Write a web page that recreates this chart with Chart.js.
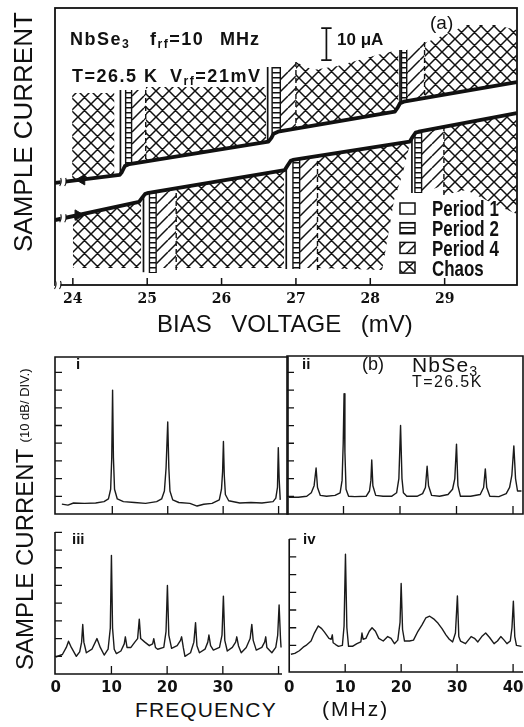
<!DOCTYPE html>
<html><head><meta charset="utf-8">
<script src="https://cdn.jsdelivr.net/npm/chart.js@4.4.1/dist/chart.umd.min.js"></script>
<style>
html,body{margin:0;padding:0;background:#fff;overflow:hidden;width:524px;height:727px;}
#wrap{position:relative;width:524px;height:727px;overflow:hidden;background:#fff;}
canvas{position:absolute;}
.t{position:absolute;white-space:nowrap;line-height:1;color:#111;font-family:"Liberation Sans",Arial,sans-serif;transform-origin:0 0;}
.t sub{font-size:0.68em;vertical-align:-0.28em;line-height:0;}
</style></head><body><div id="wrap">
<canvas id="ca"></canvas>
<canvas id="c1"></canvas>
<canvas id="c2"></canvas>
<canvas id="c3"></canvas>
<canvas id="c4"></canvas>
</div>
<script>
// ---------------- DATA: panel (a) ----------------
const voltageTicks = [24, 25, 26, 27, 28, 29];
// thick I-V branches [bias mV, current uA]
const upperCurve = [[23.76,31.9],[24.63,34.4],[24.66,35.3],[24.70,37.2],[24.76,37.8],[26.63,44.8],[26.67,46.0],[26.70,47.3],[26.76,47.9],[28.33,54.2],[28.37,55.5],[28.40,56.8],[28.45,57.3],[29.97,63.4]];
const lowerCurve = [[23.76,20.3],[24.89,26.0],[24.93,27.2],[24.97,28.4],[25.00,28.7],[26.85,35.9],[26.89,37.4],[26.93,38.8],[26.96,39.1],[28.53,44.8],[28.57,46.3],[28.61,47.6],[28.65,47.9],[29.97,53.7]];
const upperArrow = [[24.12,32.9]];
const lowerArrow = [[24.07,21.85]];
// hatched regions: [kind, outer boundary]; filled to the branch
const upperRegions = [
  ['chaos', [[23.99,60.0],[24.56,60.0]]],
  ['p2',    [[24.71,60.9],[24.79,60.9]]],
  ['p4',    [[24.79,60.9],[24.98,60.9]]],
  ['chaos', [[24.98,61.9],[26.60,61.9]]],
  ['p2',    [[26.68,68.1],[26.79,68.1]]],
  ['p4',    [[26.79,66.4],[27.00,69.7]]],
  ['chaos', [[27.00,69.7],[27.23,67.2],[27.56,68.4],[28.09,71.9],[28.38,73.4]]],
  ['p2',    [[28.42,73.4],[28.49,73.4]]],
  ['p4',    [[28.49,73.4],[28.73,75.9]]],
  ['chaos', [[28.73,75.6],[29.03,78.4],[29.29,81.25],[29.69,81.25],[29.97,79.7]]]
];
const lowerRegions = [
  ['chaos', [[24.00,5.3],[24.92,5.3]]],
  ['p2',    [[25.03,3.75],[25.12,3.75]]],
  ['p4',    [[25.12,5.3],[25.39,5.3]]],
  ['chaos', [[25.39,5.3],[26.84,5.3]]],
  ['p2',    [[26.96,5.0],[27.05,5.0]]],
  ['p4',    [[27.05,5.3],[27.29,5.3]]],
  ['chaos', [[27.29,5.3],[28.16,4.7],[28.32,26.6],[28.43,34.4],[28.53,43.75]]],
  ['p2',    [[28.60,28.75],[28.69,28.75]]],
  ['p4',    [[28.69,28.75],[28.99,31.2]]],
  ['chaos', [[28.99,28.1],[29.29,29.7],[29.69,25.0],[29.97,22.2]]]
];
// boundary lines [bias, from current, to current]
const solidLines  = [[24.64,60.9,34.4],[26.62,68.1,44.6],[28.40,73.4,56.6],[24.95,4.0,28.1],[26.87,5.0,36.9],[28.56,28.75,46.2]];
const ladderRails = [[24.71,60.9,37.1],[24.79,60.9,37.7],[26.68,68.1,46.2],[26.79,68.1,47.8],[28.42,73.4,56.8],[28.49,73.4,57.3],[25.03,3.75,29.0],[25.12,3.75,29.4],[26.96,5.0,39.3],[27.05,5.0,39.6],[28.60,28.75,47.5],[28.69,28.75,48.3]];
const dashedLines = [[24.98,60.9,38.5],[27.00,69.7,48.8],[28.73,75.9,58.3],[25.39,4.7,30.4],[27.29,4.7,40.5],[28.99,28.1,49.6]];
const scaleBar = [[27.34,80.3],[27.48,80.3],[27.41,80.3],[27.41,70.3],[27.34,70.3],[27.48,70.3]];
const breakMarks = [[23.87,32.2],[23.87,20.85]];
const legendKinds = ['p1','p2','p4','chaos'];
const legendLabels = ['Period 1','Period 2','Period 4','Chaos'];

// ---------------- DATA: panel (b) ----------------
const freqTicks = [10, 20, 30, 40];
const freqLabelsIII = [0, 10, 20, 30];
const freqLabelsIV = [0, 10, 20, 30, 40];
const divTicksTop = [1,2,3,4,5,6,7,8];
const divTicksIII = [1,2,3,4,5,6,7,8];
const divTicksIV = [1.5,2.5,3.5,4.5,5.5,6.5,7.5];
// [frequency MHz, level in 10 dB divisions]
const spectrumI = [[0.9,0.56],[2,0.5],[3,0.62],[5,0.6],[7,0.62],[8.5,0.7],[9.3,0.85],[9.7,1.4],[9.9,3.2],[10.05,7.0],[10.2,3.2],[10.4,1.4],[10.9,0.85],[12,0.7],[14,0.65],[16,0.6],[18,0.7],[18.9,0.85],[19.4,1.3],[19.7,2.6],[20.0,5.2],[20.2,2.6],[20.4,1.3],[20.9,0.8],[22,0.65],[24,0.6],[25.3,0.45],[26.5,0.55],[28,0.6],[29.3,0.8],[29.7,1.4],[29.9,2.4],[30.05,4.1],[30.2,2.2],[30.4,1.1],[31,0.75],[33,0.62],[35,0.65],[37,0.62],[39,0.7],[39.5,0.9],[39.8,1.5],[39.95,3.75],[40.1,2.0],[40.3,0.8]];
const spectrumII = [[0.3,0.95],[2,0.95],[3.5,1.0],[4.3,1.2],[4.8,1.6],[5.15,2.6],[5.4,1.5],[5.9,1.05],[7,1.0],[8.5,1.05],[9.4,1.2],[9.75,1.9],[9.95,4.0],[10.1,6.8],[10.25,3.5],[10.45,1.4],[10.9,1.0],[12,0.98],[14,1.0],[14.6,1.3],[14.85,1.9],[15.0,3.05],[15.2,1.6],[15.7,1.05],[17,1.0],[18.5,1.0],[19.4,1.2],[19.8,2.0],[20.1,5.0],[20.35,2.0],[20.6,1.2],[21.2,1.0],[23,1.0],[24.0,1.15],[24.5,1.5],[24.8,2.7],[25.05,1.6],[25.6,1.05],[27,1.0],[28.5,1.1],[29.3,1.4],[29.7,2.0],[30.0,3.95],[30.25,1.6],[30.7,1.0],[32.5,1.0],[34.2,1.1],[34.8,1.5],[35.1,2.55],[35.35,1.5],[35.9,1.0],[37.5,0.98],[38.8,1.15],[39.4,1.5],[39.8,2.2],[40.15,3.85],[40.45,2.0],[40.8,1.3],[41.5,1.3]];
const spectrumIII = [[0.0,0.96],[1.2,1.1],[1.9,1.5],[2.3,1.85],[2.8,1.5],[3.7,1.0],[4.3,1.25],[4.65,1.8],[4.85,2.8],[5.05,1.8],[5.5,1.2],[6.5,1.4],[7.4,2.0],[8.0,1.5],[8.7,1.07],[9.4,1.4],[9.8,2.6],[10.0,6.7],[10.2,2.6],[10.5,1.4],[10.9,1.15],[11.7,1.3],[12.3,1.7],[12.5,2.1],[12.8,1.5],[13.5,1.5],[14.2,1.8],[14.7,2.0],[15.0,3.1],[15.25,2.0],[16.0,1.8],[16.8,1.6],[17.4,1.7],[17.6,2.0],[17.9,1.5],[18.3,1.4],[19.4,1.5],[19.8,2.4],[20.05,5.0],[20.3,2.2],[20.8,1.45],[21.8,1.6],[22.4,1.9],[22.6,2.1],[22.9,1.5],[23.2,1.0],[24.2,1.2],[24.8,1.8],[25.1,2.9],[25.35,1.6],[25.8,1.2],[26.8,1.4],[27.3,1.8],[27.5,2.2],[27.8,1.6],[28.3,1.35],[29.4,1.5],[29.85,2.2],[30.1,4.4],[30.35,1.9],[30.8,1.3],[31.7,1.5],[32.3,1.8],[32.5,2.1],[32.8,1.6],[33.3,1.2],[34.2,1.5],[34.9,2.0],[35.2,2.8],[35.45,1.9],[36.0,1.35],[37.0,1.5],[37.5,1.8],[37.7,2.1],[37.9,1.5],[38.8,1.2],[39.5,1.5],[39.85,2.2],[40.1,3.9],[40.35,2.0],[40.45,1.5]];
const spectrumIV = [[0.3,1.0],[1.0,1.05],[1.8,1.2],[2.5,1.4],[3.0,1.5],[3.9,1.75],[4.5,2.2],[5.2,2.6],[5.8,2.45],[6.3,2.25],[7.1,1.9],[7.5,1.85],[7.7,2.1],[7.85,1.65],[8.3,1.55],[8.8,1.45],[9.5,1.5],[9.8,2.6],[10.05,6.65],[10.3,2.5],[10.6,1.45],[11.3,1.45],[12.1,1.6],[12.8,1.7],[13.0,2.2],[13.2,1.85],[13.7,1.9],[14.3,2.3],[14.8,2.5],[15.4,2.3],[16.0,1.9],[16.8,1.75],[17.6,2.0],[18.2,1.9],[18.8,1.6],[19.4,1.8],[19.8,2.8],[20.0,5.0],[20.25,2.4],[20.6,1.75],[21.5,1.75],[22.2,1.8],[23.0,2.3],[23.7,2.65],[24.4,3.05],[25.1,3.15],[25.8,3.0],[26.6,2.75],[27.3,2.45],[28.0,2.1],[28.6,1.85],[29.2,1.7],[29.7,2.2],[30.05,4.3],[30.3,2.0],[30.6,1.75],[31.5,1.6],[32.0,1.8],[32.5,2.0],[33.1,1.9],[33.7,1.7],[34.4,2.0],[35.1,2.2],[35.8,1.95],[36.6,1.6],[37.2,1.75],[37.8,2.0],[38.4,1.8],[38.9,1.6],[39.5,1.75],[39.8,2.5],[40.05,4.0],[40.3,2.0],[40.6,1.5],[41.5,1.45]];

// ---------------- helpers ----------------
const INK = '#111';
const toXY = arr => arr.map(([x, y]) => ({x, y}));
function makePatterns() {
  function tile(w, h, draw) {
    const c = document.createElement('canvas'); c.width = w; c.height = h;
    const g = c.getContext('2d'); g.strokeStyle = INK; g.fillStyle = INK; g.lineWidth = 1.5;
    draw(g, w, h); return g.createPattern(c, 'repeat');
  }
  return {
    chaos: tile(13, 13, (g, w, h) => { g.beginPath(); for (const d of [-w, 0, w]) { g.moveTo(d, 0); g.lineTo(d + w, h); g.moveTo(d, h); g.lineTo(d + w, 0); } g.stroke(); }),
    p4: tile(12, 12, (g, w, h) => { g.beginPath(); for (const d of [-w, 0, w]) { g.moveTo(d, h); g.lineTo(d + w, 0); } g.stroke(); }),
    p2: tile(4, 5, (g, w, h) => { g.fillRect(0, 2, w, 1.5); }),
    p1: 'rgba(0,0,0,0)'
  };
}
const PAT = makePatterns();
function setCanvas(id, left, top, w, h) {
  const c = document.getElementById(id); c.width = w; c.height = h;
  c.style.left = left + 'px'; c.style.top = top + 'px'; c.style.width = w + 'px'; c.style.height = h + 'px';
  return c;
}

// ---------------- panel (a) ----------------
const dsA = [];
const curveDs = pts => ({data: toXY(pts), borderColor: INK, borderWidth: 3.8, pointRadius: 0, fill: false, borderJoinStyle: 'round', borderCapStyle: 'butt'});
dsA.push(curveDs(upperCurve));
dsA.push(curveDs(lowerCurve));
const arrowDs = (pts, rot) => ({data: toXY(pts), showLine: false, pointStyle: 'triangle', rotation: rot, pointRadius: 6, pointBackgroundColor: INK, pointBorderColor: INK, pointBorderWidth: 1, fill: false});
dsA.push(arrowDs(upperArrow, -90));
dsA.push(arrowDs(lowerArrow, 90));
const vline = ([v, a, b], w, dash) => ({data: [{x: v, y: a}, {x: v, y: b}], borderColor: INK, borderWidth: w, borderDash: dash, pointRadius: 0, fill: false});
solidLines.forEach(l => dsA.push(vline(l, 1.7, [])));
ladderRails.forEach(l => dsA.push(vline(l, 1.4, [])));
dashedLines.forEach(l => dsA.push(vline(l, 1.4, [5, 3])));
dsA.push({data: toXY(scaleBar), borderColor: INK, borderWidth: 1.7, pointRadius: 0, fill: false});
const regionDs = (kind, pts, target) => ({data: toXY(pts), borderWidth: 0, borderColor: 'rgba(0,0,0,0)', pointRadius: 0, fill: {target}, backgroundColor: PAT[kind]});
upperRegions.forEach(([k, p]) => dsA.push(regionDs(k, p, 0)));
lowerRegions.forEach(([k, p]) => dsA.push(regionDs(k, p, 1)));

const frameA = {
  id: 'frameA',
  afterDatasetsDraw(chart) {
    const {ctx, chartArea: a, scales: {x, y}} = chart;
    ctx.save();
    ctx.strokeStyle = INK; ctx.fillStyle = INK;
    ctx.lineWidth = 1.8;
    ctx.strokeRect(a.left, a.top, a.right - a.left, a.bottom - a.top);
    ctx.lineWidth = 1.5; ctx.beginPath();
    voltageTicks.forEach(v => { const px = x.getPixelForValue(v); ctx.moveTo(px, a.bottom); ctx.lineTo(px, a.bottom - 7); });
    ctx.stroke();
    // axis break marks
    const marks = breakMarks.map(([v, i]) => [x.getPixelForValue(v), y.getPixelForValue(i)]);
    marks.push([a.left + 3, a.bottom]);
    marks.forEach(([px, py]) => {
      ctx.fillStyle = '#fff'; ctx.fillRect(px - 2.5, py - 4, 5, 8);
      ctx.lineWidth = 1.1; ctx.beginPath();
      ctx.moveTo(px - 3.5, py + 4); ctx.quadraticCurveTo(px - 1, py, px - 2.5, py - 4);
      ctx.moveTo(px + 1.5, py + 4); ctx.quadraticCurveTo(px + 4, py, px + 2.5, py - 4);
      ctx.stroke();
    });
    // legend boxes
    legendKinds.forEach((k, i) => {
      const bx = 400, by = 203 + i * 19.7, bw = 15, bh = 11;
      ctx.fillStyle = '#fff'; ctx.fillRect(bx, by, bw, bh);
      if (k !== 'p1') { ctx.fillStyle = PAT[k]; ctx.fillRect(bx, by, bw, bh); }
      ctx.lineWidth = 1.5; ctx.strokeStyle = INK; ctx.strokeRect(bx, by, bw, bh);
    });
    ctx.restore();
  }
};

setCanvas('ca', 0, 0, 524, 345);
new Chart(document.getElementById('ca'), {
  type: 'line',
  data: {datasets: dsA},
  options: {
    responsive: false, animation: false, devicePixelRatio: 1,
    layout: {padding: {left: 55, top: 8, right: 3, bottom: 0}},
    plugins: {legend: {display: false}, tooltip: {enabled: false}},
    elements: {point: {radius: 0}, line: {tension: 0}},
    scales: {
      x: {type: 'linear', min: 23.76, max: 29.973,
          grid: {display: false, drawTicks: false}, border: {display: false},
          ticks: {font: {family: 'DejaVu Serif', weight: 'bold', size: 14}, color: INK, padding: 6, maxRotation: 0, autoSkip: false},
          afterBuildTicks: s => { s.ticks = voltageTicks.map(v => ({value: v})); },
          afterFit: s => { s.height = 60; }},
      y: {type: 'linear', min: 0, max: 86.5625, display: false}
    }
  },
  plugins: [frameA]
});

// ---------------- panel (b) ----------------
const specFrame = {
  id: 'specFrame',
  afterDatasetsDraw(chart, args, o) {
    const {ctx, chartArea: a, scales: {x, y}} = chart;
    ctx.save(); ctx.strokeStyle = INK; ctx.lineWidth = 1.6;
    ctx.beginPath();
    if (o.box) ctx.rect(a.left, a.top, a.right - a.left, a.bottom - a.top);
    else { ctx.moveTo(a.left, a.top); ctx.lineTo(a.left, a.bottom); ctx.lineTo(a.right, a.bottom); }
    ctx.stroke();
    ctx.lineWidth = 1.3; ctx.beginPath();
    o.yTicks.forEach(v => { const py = y.getPixelForValue(v); ctx.moveTo(a.left, py); ctx.lineTo(a.left + 7, py); });
    o.xTicks.forEach(v => { const px = x.getPixelForValue(v); ctx.moveTo(px, a.bottom); ctx.lineTo(px, a.bottom - 8); });
    ctx.stroke(); ctx.restore();
  }
};
function specChart(id, pos, data, xr, yr, fr, labels) {
  setCanvas(id, pos.l, pos.t, pos.w, pos.h);
  const xs = {type: 'linear', min: xr[0], max: xr[1], display: !!labels};
  if (labels) Object.assign(xs, {
    grid: {display: false, drawTicks: false}, border: {display: false},
    ticks: {font: {family: 'DejaVu Sans', weight: 'bold', size: 15}, color: INK, padding: pos.tp, maxRotation: 0, autoSkip: false},
    afterBuildTicks: s => { s.ticks = labels.map(v => ({value: v})); },
    afterFit: s => { s.height = 24; }
  });
  new Chart(document.getElementById(id), {
    type: 'line',
    data: {datasets: [{data: toXY(data), borderColor: '#1a1a1a', borderWidth: 1.4, pointRadius: 0, fill: false, tension: 0, borderJoinStyle: 'round'}]},
    options: {
      responsive: false, animation: false, devicePixelRatio: 1,
      layout: {padding: pos.pad},
      plugins: {legend: {display: false}, tooltip: {enabled: false}, specFrame: fr},
      scales: {x: xs, y: {type: 'linear', min: yr[0], max: yr[1], display: false}}
    },
    plugins: [specFrame]
  });
}
specChart('c1', {l: 53, t: 355, w: 237, h: 161, pad: {left: 2, top: 2, right: 2, bottom: 2}}, spectrumI, [-0.34, 41.7], [0, 8.87], {box: true, yTicks: divTicksTop, xTicks: freqTicks});
specChart('c2', {l: 285, t: 354, w: 240, h: 162, pad: {left: 2, top: 2, right: 2, bottom: 2}}, spectrumII, [0, 41.77], [0, 8.93], {box: true, yTicks: divTicksTop, xTicks: freqTicks});
specChart('c3', {l: 45, t: 530, w: 245, h: 168, tp: 5, pad: {left: 10, top: 2, right: 8, bottom: 0}}, spectrumIII, [-0.13, 40.62], [0, 8.02], {box: false, yTicks: divTicksIII, xTicks: freqTicks}, freqLabelsIII);
specChart('c4', {l: 277, t: 537, w: 257, h: 159, tp: 7, pad: {left: 10, top: 2, right: 11, bottom: 0}}, spectrumIV, [0, 41.77], [0, 7.51], {box: false, yTicks: divTicksIV, xTicks: freqTicks}, freqLabelsIV);

// ---------------- text ----------------
const wrap = document.getElementById('wrap');
function addText(html, x, base, size, o = {}) {
  const d = document.createElement('div'); d.className = 't'; d.innerHTML = html;
  d.style.left = x + 'px'; d.style.top = (base - 0.8465 * size) + 'px'; d.style.fontSize = size + 'px';
  if (o.w) d.style.fontWeight = o.w;
  if (o.ls != null) d.style.letterSpacing = o.ls + 'px';
  if (o.ws != null) d.style.wordSpacing = o.ws + 'px';
  if (o.sx) d.style.transform = 'scaleX(' + o.sx + ')';
  if (o.ff) d.style.fontFamily = o.ff;
  wrap.appendChild(d); return d;
}
function addVText(html, baseX, bottomY, size) {
  const d = document.createElement('div'); d.className = 't'; d.innerHTML = html;
  d.style.left = (baseX - 0.8465 * size) + 'px'; d.style.top = bottomY + 'px'; d.style.fontSize = size + 'px';
  d.style.transform = 'rotate(-90deg)';
  wrap.appendChild(d); return d;
}
addText('NbSe<sub>3</sub>', 70, 45, 18, {w: 'bold', ls: 1.5});
addText('f<sub>rf</sub>=10', 150, 45, 18, {w: 'bold', ls: 1.5});
addText('MHz', 220, 45, 18, {w: 'bold', ls: 1});
addText('T=26.5 K', 72, 82, 18, {w: 'bold', ls: 1.5});
addText('V<sub>rf</sub>=21mV', 170, 82, 18, {w: 'bold', ls: 1.5});
addText('10 μA', 337, 45, 17, {w: 'bold'});
addText('(a)', 430, 29, 19);
legendLabels.forEach((s, i) => addText(s, 432, 217 + i * 20, 22, {w: 'bold', sx: 0.77}));
addText('BIAS VOLTAGE (mV)', 157, 332, 24, {ws: 13});
addVText('SAMPLE CURRENT', 32, 252, 26);
addVText('SAMPLE CURRENT <span style="font-size:13px;vertical-align:4px">(10 dB/ DIV.)</span>', 33, 670, 24);
addText('i', 76, 369, 15, {w: 'bold'});
addText('ii', 302, 369, 15, {w: 'bold'});
addText('iii', 72, 544, 15, {w: 'bold'});
addText('iv', 303, 544, 15, {w: 'bold'});
addText('(b)', 362, 370, 18);
addText('NbSe<sub>3</sub>', 412, 372, 21, {ls: 1.2});
addText('T=26.5K', 412, 388, 16, {ls: 1.4});
addText('FREQUENCY', 135, 717, 21, {ls: 1.1});
addText('(MHz)', 322, 716, 21, {ls: 2});
</script>
</body></html>
